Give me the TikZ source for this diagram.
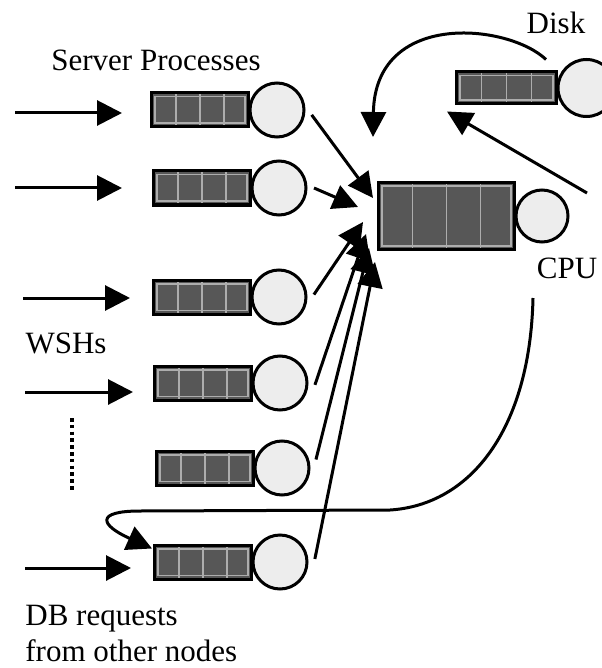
\documentclass[tikz,border=0pt]{standalone}
\usepackage{fontspec}
\setmainfont{Liberation Serif}
\usetikzlibrary{positioning,arrows.meta,calc}
\tikzset{
  flow/.style={-{Triangle[length=12.5pt,width=12.5pt]},line width=1.5pt},
  qcells/.style={path picture={
    \coordinate (pSW) at (path picture bounding box.south west);
    \coordinate (pSE) at (path picture bounding box.south east);
    \coordinate (pNW) at (path picture bounding box.north west);
    \coordinate (pNE) at (path picture bounding box.north east);
    \draw[black!32,line width=0.9pt] ([shift={(1.8pt,1.8pt)}]pSW) rectangle ([shift={(-1.8pt,-1.8pt)}]pNE);
    \foreach \f in {0.25,0.5,0.75}
      \draw[black!32,line width=0.9pt] ($(pSW)!\f!(pSE)$) -- ($(pNW)!\f!(pNE)$);
  }},
  queuebox/.style={draw=black,line width=1.5pt,fill=black!66,inner sep=0pt,
    minimum width=48.5pt,minimum height=17pt,qcells},
  server/.style={circle,draw=black,line width=1.5pt,fill=black!7,inner sep=0pt,
    minimum size=27pt,outer sep=4pt},
  lbl/.style={font=\fontsize{15.5}{18}\selectfont,inner sep=0pt}
}

\begin{document}
\begin{tikzpicture}[x=0.5pt,y=-0.5pt]
  \useasboundingbox (0,0) rectangle (601,668);
  % server process queues
  \node[queuebox,anchor=west] (q1) at (150,110) {};
  \node[queuebox,anchor=west] (q2) at (152,188) {};
  \node[queuebox,anchor=west] (q3) at (152,297) {};
  \node[queuebox,anchor=west] (q4) at (153,383) {};
  \node[queuebox,anchor=west] (q5) at (155,468) {};
  \node[queuebox,anchor=west] (q6) at (153,562) {};
  \foreach \i in {1,...,6}
    \node[server,right=-4pt of q\i] (s\i) {};
  % CPU and disk
  \node[queuebox,anchor=west,minimum width=68pt,minimum height=33.5pt] (cpuq) at (377,216) {};
  \node[server,minimum size=26pt,right=-4pt of cpuq] (cpu) {};
  \node[queuebox,anchor=west,minimum width=50pt,minimum height=16pt] (diskq) at (455,88) {};
  \node[server,minimum size=28.5pt,right=-4pt of diskq] (disk) {};
  % labels
  \node[lbl] (splbl) at (156,60) {Server Processes};
  \node[lbl] (disklbl) at (556,23) {Disk};
  \node[lbl] (cpulbl) at (567,268) {CPU};
  \node[lbl] (wshlbl) at (66,343) {WSHs};
  \node[lbl,align=left,anchor=north west] (dblbl) at (25,605) {DB requests\\from other nodes};
  % incoming requests
  \coordinate (a1) at (15,113);
  \coordinate (a2) at (15,188);
  \coordinate (a3) at (23,298);
  \coordinate (a4) at (25,392);
  \coordinate (a6) at (25,568);
  \draw[flow,shorten >=14pt] (a1) -- (a1 -| q1.west);
  \draw[flow,shorten >=15pt] (a2) -- (a2 -| q2.west);
  \draw[flow,shorten >=11pt] (a3) -- (a3 -| q3.west);
  \draw[flow,shorten >=10pt] (a4) -- (a4 -| q4.west);
  \draw[flow,shorten >=11pt] (a6) -- (a6 -| q6.west);
  \draw[line width=1.8pt,dash pattern=on 1.8pt off 1.6pt] (72,418) -- (72,492);
  % servers to CPU
  \coordinate (t1) at (373,198);
  \coordinate (t2) at (358,207);
  \coordinate (t3) at (363,222);
  \coordinate (t4) at (366,234);
  \coordinate (t5) at (369,248);
  \coordinate (t6) at (375,262);
  \draw[flow] (s1.-8) -- (t1);
  \draw[flow] (s2.0) -- (t2);
  \draw[flow] (s3.4) -- (t3);
  \draw[flow] (s4.-3) -- (t4);
  \draw[flow] (s5.14) -- (t5);
  \draw[flow] (s6.5) -- (t6);
  % disk loop
  \coordinate (dtip) at (373,137);
  \draw[flow] ([shift={(-6pt,5.5pt)}]diskq.north east) .. controls +(-38,-36) and +(2,-127) .. (dtip);
  \coordinate (c0) at (587,193);
  \draw[flow] (c0) -- ([shift={(-4pt,-3pt)}]diskq.south west);
  % remote requests back to the last queue
  \coordinate (f0) at (533,298);
  \draw[flow] (f0) .. controls (530,430) and (470,505) .. (390,510) -- (140,511)
    .. controls (95,511) and (100,525) .. ([shift={(-0.5pt,-2.5pt)}]q6.north west);
\end{tikzpicture}
\end{document}
